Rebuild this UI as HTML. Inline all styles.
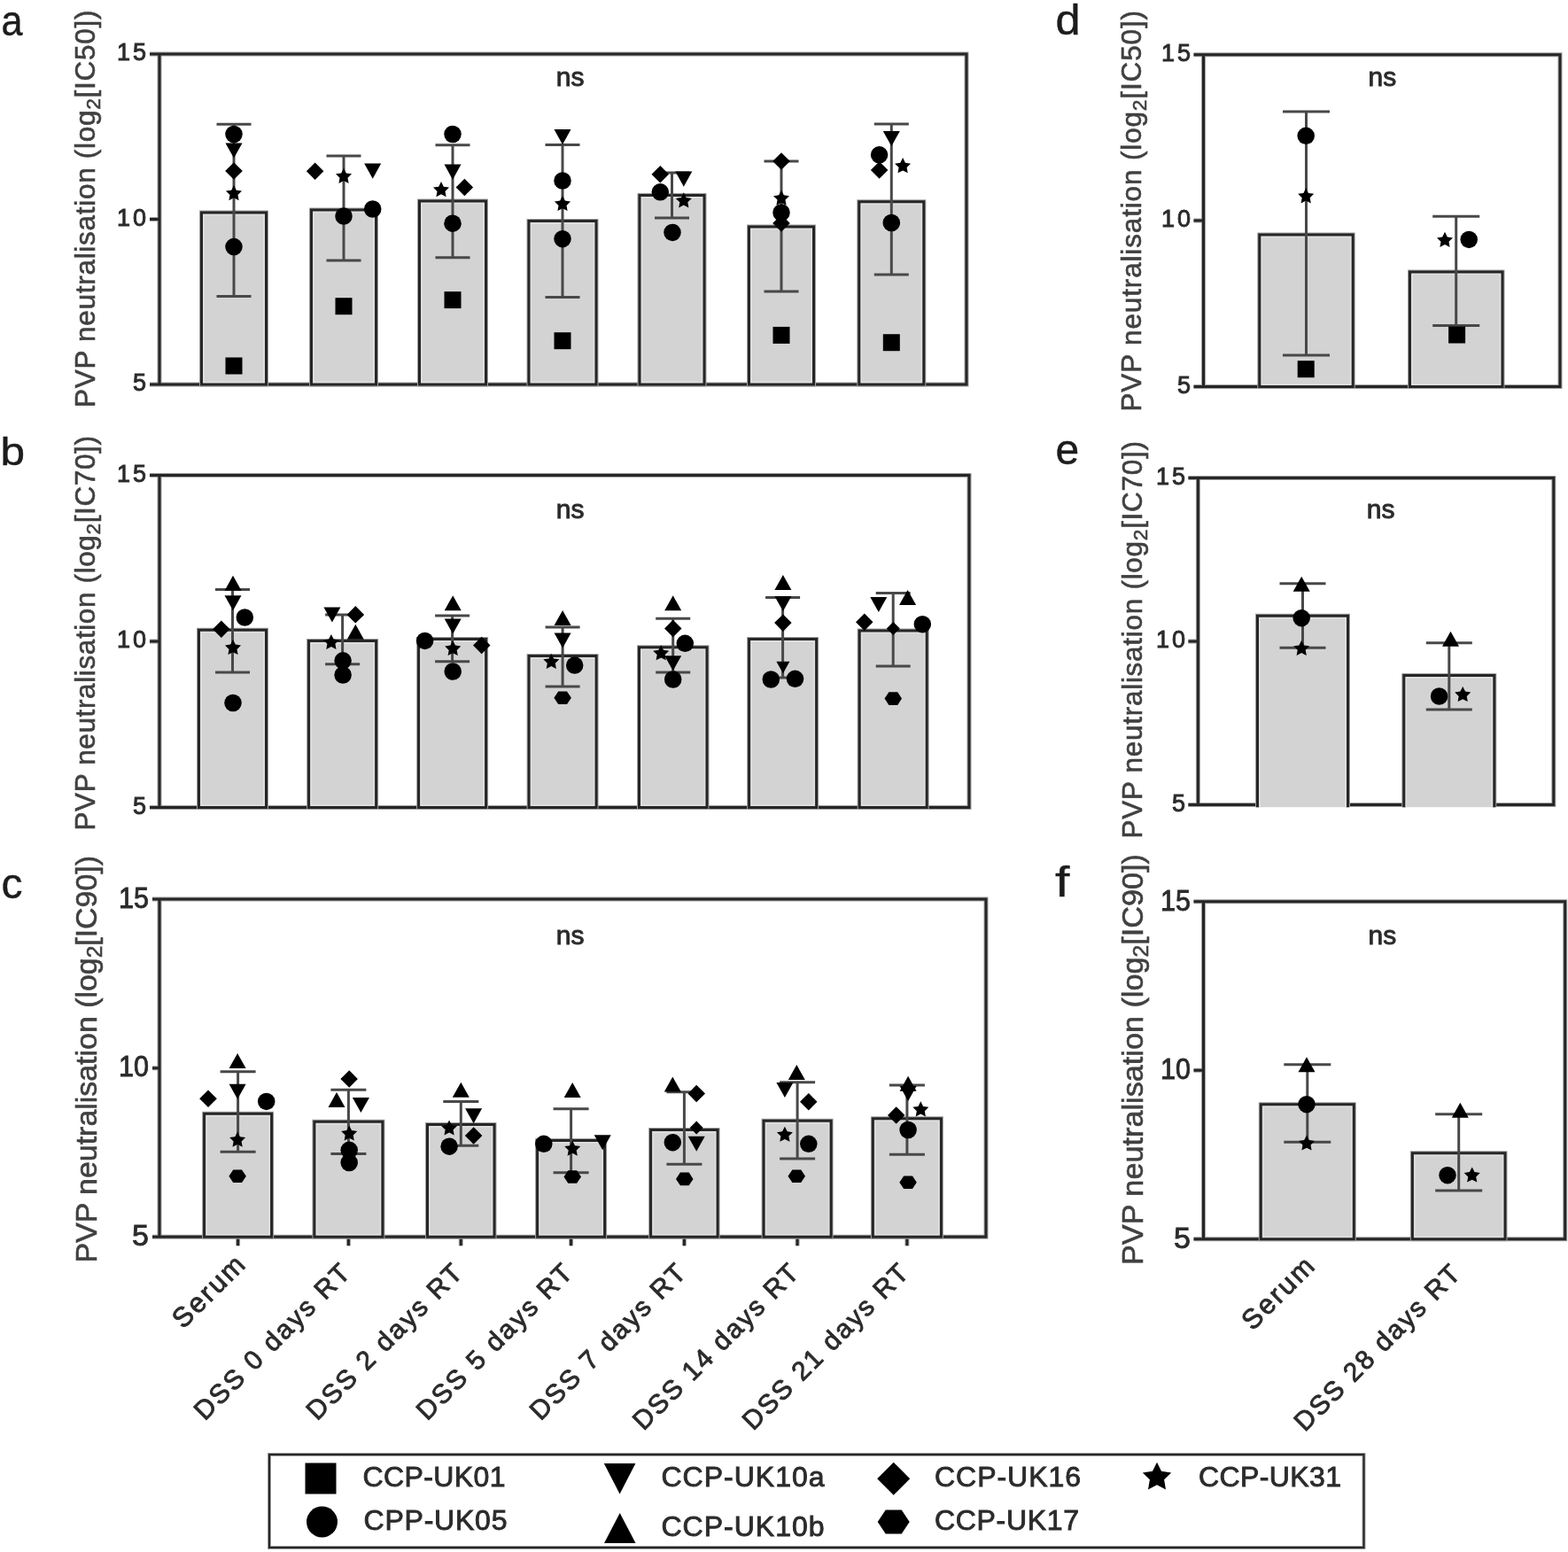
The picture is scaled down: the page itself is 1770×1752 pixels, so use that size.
<!DOCTYPE html>
<html><head><meta charset="utf-8"><title>PVP neutralisation figure</title>
<style>
html,body{margin:0;padding:0;background:#fff;}
body{width:1770px;height:1752px;overflow:hidden;}
svg{display:block;}
text{font-family:"Liberation Sans", Arial, sans-serif;stroke-width:0.9px;}
</style></head><body>
<svg width="1770" height="1752" viewBox="0 0 1770 1752">
<rect width="1770" height="1752" fill="#fff"/>
<path d="M180,434 L180,61 L1091,61 L1091,434 Z M169,61.0 L180,61.0 M169,247.5 L180,247.5 M169,434.0 L180,434.0" fill="none" stroke="#a0a0a0" stroke-width="5.0"/>
<path d="M180,434 L180,61 L1091,61 L1091,434 Z M169,61.0 L180,61.0 M169,247.5 L180,247.5 M169,434.0 L180,434.0" fill="none" stroke="#262626" stroke-width="3.0"/>
<path d="M227.5,434 L227.5,240.0 L300.5,240.0 L300.5,434 Z" fill="none" stroke="#a0a0a0" stroke-width="5.0"/>
<path d="M227.5,434 L227.5,240.0 L300.5,240.0 L300.5,434 Z" fill="#d3d3d3" stroke="none"/>
<rect x="230.0" y="242.5" width="68.0" height="189.0" fill="none" stroke="#e0e0e0" stroke-width="1.6"/>
<path d="M227.5,434 L227.5,240.0 L300.5,240.0 L300.5,434 Z" fill="none" stroke="#262626" stroke-width="3.0"/>
<path d="M351.5,434 L351.5,237.0 L424.5,237.0 L424.5,434 Z" fill="none" stroke="#a0a0a0" stroke-width="5.0"/>
<path d="M351.5,434 L351.5,237.0 L424.5,237.0 L424.5,434 Z" fill="#d3d3d3" stroke="none"/>
<rect x="354.0" y="239.5" width="68.0" height="192.0" fill="none" stroke="#e0e0e0" stroke-width="1.6"/>
<path d="M351.5,434 L351.5,237.0 L424.5,237.0 L424.5,434 Z" fill="none" stroke="#262626" stroke-width="3.0"/>
<path d="M473.5,434 L473.5,227.0 L548.5,227.0 L548.5,434 Z" fill="none" stroke="#a0a0a0" stroke-width="5.0"/>
<path d="M473.5,434 L473.5,227.0 L548.5,227.0 L548.5,434 Z" fill="#d3d3d3" stroke="none"/>
<rect x="476.0" y="229.5" width="70.0" height="202.0" fill="none" stroke="#e0e0e0" stroke-width="1.6"/>
<path d="M473.5,434 L473.5,227.0 L548.5,227.0 L548.5,434 Z" fill="none" stroke="#262626" stroke-width="3.0"/>
<path d="M597.0,434 L597.0,249.6 L673.0,249.6 L673.0,434 Z" fill="none" stroke="#a0a0a0" stroke-width="5.0"/>
<path d="M597.0,434 L597.0,249.6 L673.0,249.6 L673.0,434 Z" fill="#d3d3d3" stroke="none"/>
<rect x="599.5" y="252.1" width="71.0" height="179.4" fill="none" stroke="#e0e0e0" stroke-width="1.6"/>
<path d="M597.0,434 L597.0,249.6 L673.0,249.6 L673.0,434 Z" fill="none" stroke="#262626" stroke-width="3.0"/>
<path d="M722.0,434 L722.0,220.4 L795.0,220.4 L795.0,434 Z" fill="none" stroke="#a0a0a0" stroke-width="5.0"/>
<path d="M722.0,434 L722.0,220.4 L795.0,220.4 L795.0,434 Z" fill="#d3d3d3" stroke="none"/>
<rect x="724.5" y="222.9" width="68.0" height="208.6" fill="none" stroke="#e0e0e0" stroke-width="1.6"/>
<path d="M722.0,434 L722.0,220.4 L795.0,220.4 L795.0,434 Z" fill="none" stroke="#262626" stroke-width="3.0"/>
<path d="M845.5,434 L845.5,256.0 L918.5,256.0 L918.5,434 Z" fill="none" stroke="#a0a0a0" stroke-width="5.0"/>
<path d="M845.5,434 L845.5,256.0 L918.5,256.0 L918.5,434 Z" fill="#d3d3d3" stroke="none"/>
<rect x="848.0" y="258.5" width="68.0" height="173.0" fill="none" stroke="#e0e0e0" stroke-width="1.6"/>
<path d="M845.5,434 L845.5,256.0 L918.5,256.0 L918.5,434 Z" fill="none" stroke="#262626" stroke-width="3.0"/>
<path d="M969.8,434 L969.8,227.8 L1042.8,227.8 L1042.8,434 Z" fill="none" stroke="#a0a0a0" stroke-width="5.0"/>
<path d="M969.8,434 L969.8,227.8 L1042.8,227.8 L1042.8,434 Z" fill="#d3d3d3" stroke="none"/>
<rect x="972.3" y="230.3" width="68.0" height="201.2" fill="none" stroke="#e0e0e0" stroke-width="1.6"/>
<path d="M969.8,434 L969.8,227.8 L1042.8,227.8 L1042.8,434 Z" fill="none" stroke="#262626" stroke-width="3.0"/>
<g stroke="#484848" stroke-width="3.0"><line x1="264.0" y1="140.3" x2="264.0" y2="334.6"/><line x1="244.5" y1="140.3" x2="283.5" y2="140.3"/><line x1="244.5" y1="334.6" x2="283.5" y2="334.6"/></g>
<g stroke="#484848" stroke-width="3.0"><line x1="388.0" y1="175.9" x2="388.0" y2="293.9"/><line x1="368.5" y1="175.9" x2="407.5" y2="175.9"/><line x1="368.5" y1="293.9" x2="407.5" y2="293.9"/></g>
<g stroke="#484848" stroke-width="3.0"><line x1="511.0" y1="163.7" x2="511.0" y2="290.8"/><line x1="491.5" y1="163.7" x2="530.5" y2="163.7"/><line x1="491.5" y1="290.8" x2="530.5" y2="290.8"/></g>
<g stroke="#484848" stroke-width="3.0"><line x1="635.0" y1="163.5" x2="635.0" y2="335.4"/><line x1="615.5" y1="163.5" x2="654.5" y2="163.5"/><line x1="615.5" y1="335.4" x2="654.5" y2="335.4"/></g>
<g stroke="#484848" stroke-width="3.0"><line x1="758.5" y1="194.9" x2="758.5" y2="246.0"/><line x1="739.0" y1="194.9" x2="778.0" y2="194.9"/><line x1="739.0" y1="246.0" x2="778.0" y2="246.0"/></g>
<g stroke="#484848" stroke-width="3.0"><line x1="882.0" y1="182.1" x2="882.0" y2="329.1"/><line x1="862.5" y1="182.1" x2="901.5" y2="182.1"/><line x1="862.5" y1="329.1" x2="901.5" y2="329.1"/></g>
<g stroke="#484848" stroke-width="3.0"><line x1="1006.3" y1="140.1" x2="1006.3" y2="310.0"/><line x1="986.8" y1="140.1" x2="1025.8" y2="140.1"/><line x1="986.8" y1="310.0" x2="1025.8" y2="310.0"/></g>
<g fill="#000">
<circle cx="264.0" cy="151.5" r="9.75"/>
<polygon points="254.5,161.4 273.5,161.4 264.0,178.6"/>
<polygon points="264.0,183.2 273.8,193.0 264.0,202.8 254.2,193.0"/>
<polygon points="264.0,209.0 266.8,214.7 273.0,215.6 268.5,220.0 269.6,226.2 264.0,223.3 258.4,226.2 259.5,220.0 255.0,215.6 261.2,214.7"/>
<circle cx="264.0" cy="278.6" r="9.75"/>
<rect x="254.5" y="403.5" width="19" height="19"/>
<polygon points="355.6,183.4 365.4,193.2 355.6,202.9 345.9,193.2"/>
<polygon points="388.0,189.8 390.8,195.4 397.0,196.3 392.5,200.7 393.6,206.9 388.0,204.0 382.4,206.9 383.5,200.7 379.0,196.3 385.2,195.4"/>
<polygon points="411.2,184.6 430.2,184.6 420.7,201.8"/>
<circle cx="388.0" cy="244.0" r="9.75"/>
<circle cx="420.7" cy="236.0" r="9.75"/>
<rect x="378.5" y="336.2" width="19" height="19"/>
<circle cx="511.0" cy="151.5" r="9.75"/>
<polygon points="501.5,185.6 520.5,185.6 511.0,202.8"/>
<polygon points="498.0,205.0 500.8,210.7 507.0,211.6 502.5,216.0 503.6,222.2 498.0,219.3 492.4,222.2 493.5,216.0 489.0,211.6 495.2,210.7"/>
<polygon points="524.4,201.8 534.1,211.5 524.4,221.2 514.6,211.5"/>
<circle cx="511.0" cy="252.2" r="9.75"/>
<rect x="501.5" y="329.1" width="19" height="19"/>
<polygon points="625.5,146.1 644.5,146.1 635.0,163.2"/>
<circle cx="635.0" cy="204.0" r="9.75"/>
<polygon points="635.0,220.9 637.8,226.6 644.0,227.5 639.5,231.9 640.6,238.1 635.0,235.2 629.4,238.1 630.5,231.9 626.0,227.5 632.2,226.6"/>
<circle cx="635.0" cy="269.7" r="9.75"/>
<rect x="625.5" y="375.2" width="19" height="19"/>
<polygon points="745.3,186.9 755.0,196.7 745.3,206.4 735.5,196.7"/>
<polygon points="762.3,193.6 781.3,193.6 771.8,210.8"/>
<circle cx="745.3" cy="216.8" r="9.75"/>
<polygon points="771.8,217.3 774.6,223.0 780.8,223.9 776.3,228.3 777.4,234.5 771.8,231.6 766.2,234.5 767.3,228.3 762.8,223.9 769.0,223.0"/>
<circle cx="759.0" cy="262.4" r="9.75"/>
<polygon points="882.0,172.2 891.8,182.0 882.0,191.8 872.2,182.0"/>
<polygon points="882.0,214.6 884.8,220.3 891.0,221.2 886.5,225.6 887.6,231.8 882.0,228.9 876.4,231.8 877.5,225.6 873.0,221.2 879.2,220.3"/>
<circle cx="882.0" cy="240.0" r="9.75"/>
<polygon points="882.0,242.2 891.8,252.0 882.0,261.8 872.2,252.0"/>
<rect x="872.5" y="368.9" width="19" height="19"/>
<polygon points="996.8,147.9 1015.8,147.9 1006.3,165.1"/>
<circle cx="992.6" cy="174.8" r="9.75"/>
<polygon points="992.6,182.3 1002.4,192.1 992.6,201.8 982.9,192.1"/>
<polygon points="1019.1,178.1 1021.9,183.8 1028.1,184.7 1023.6,189.1 1024.7,195.3 1019.1,192.4 1013.5,195.3 1014.6,189.1 1010.1,184.7 1016.3,183.8"/>
<circle cx="1006.3" cy="251.5" r="9.75"/>
<rect x="996.8" y="377.2" width="19" height="19"/>
</g>
<text x="165" y="68.2" text-anchor="end" font-size="27" fill="#2b2b2b" stroke="#2b2b2b" textLength="33" lengthAdjust="spacing">15</text>
<text x="165" y="254.7" text-anchor="end" font-size="27" fill="#2b2b2b" stroke="#2b2b2b" textLength="33" lengthAdjust="spacing">10</text>
<text x="165" y="441.2" text-anchor="end" font-size="27" fill="#2b2b2b" stroke="#2b2b2b">5</text>
<text x="643.7" y="97" text-anchor="middle" font-size="30" fill="#2b2b2b" stroke="#2b2b2b">ns</text>
<text transform="translate(1.5,40) scale(0.9,1)" font-size="48" fill="#1c1c1c" stroke="#1c1c1c" style="stroke-width:0.4px">a</text>
<text transform="translate(107.2,460) rotate(-90)" x="0" y="0" font-size="31.5" fill="#404040" stroke="#404040" style="stroke-width:0.6px" textLength="448.4" lengthAdjust="spacing">PVP neutralisation (log<tspan font-size="22.7" dy="5.7">2</tspan><tspan dy="-5.7">[IC50])</tspan></text>
<path d="M180,911.5 L180,536.6 L1094,536.6 L1094,911.5 Z M169,536.6 L180,536.6 M169,724.0 L180,724.0 M169,911.5 L180,911.5" fill="none" stroke="#a0a0a0" stroke-width="5.0"/>
<path d="M180,911.5 L180,536.6 L1094,536.6 L1094,911.5 Z M169,536.6 L180,536.6 M169,724.0 L180,724.0 M169,911.5 L180,911.5" fill="none" stroke="#262626" stroke-width="3.0"/>
<path d="M224.5,911.5 L224.5,711.2 L300.5,711.2 L300.5,911.5 Z" fill="none" stroke="#a0a0a0" stroke-width="5.0"/>
<path d="M224.5,911.5 L224.5,711.2 L300.5,711.2 L300.5,911.5 Z" fill="#d3d3d3" stroke="none"/>
<rect x="227.0" y="713.7" width="71.0" height="195.3" fill="none" stroke="#e0e0e0" stroke-width="1.6"/>
<path d="M224.5,911.5 L224.5,711.2 L300.5,711.2 L300.5,911.5 Z" fill="none" stroke="#262626" stroke-width="3.0"/>
<path d="M348.6,911.5 L348.6,723.4 L424.6,723.4 L424.6,911.5 Z" fill="none" stroke="#a0a0a0" stroke-width="5.0"/>
<path d="M348.6,911.5 L348.6,723.4 L424.6,723.4 L424.6,911.5 Z" fill="#d3d3d3" stroke="none"/>
<rect x="351.1" y="725.9" width="71.0" height="183.1" fill="none" stroke="#e0e0e0" stroke-width="1.6"/>
<path d="M348.6,911.5 L348.6,723.4 L424.6,723.4 L424.6,911.5 Z" fill="none" stroke="#262626" stroke-width="3.0"/>
<path d="M472.6,911.5 L472.6,721.4 L548.6,721.4 L548.6,911.5 Z" fill="none" stroke="#a0a0a0" stroke-width="5.0"/>
<path d="M472.6,911.5 L472.6,721.4 L548.6,721.4 L548.6,911.5 Z" fill="#d3d3d3" stroke="none"/>
<rect x="475.1" y="723.9" width="71.0" height="185.1" fill="none" stroke="#e0e0e0" stroke-width="1.6"/>
<path d="M472.6,911.5 L472.6,721.4 L548.6,721.4 L548.6,911.5 Z" fill="none" stroke="#262626" stroke-width="3.0"/>
<path d="M597.1,911.5 L597.1,740.4 L673.1,740.4 L673.1,911.5 Z" fill="none" stroke="#a0a0a0" stroke-width="5.0"/>
<path d="M597.1,911.5 L597.1,740.4 L673.1,740.4 L673.1,911.5 Z" fill="#d3d3d3" stroke="none"/>
<rect x="599.6" y="742.9" width="71.0" height="166.1" fill="none" stroke="#e0e0e0" stroke-width="1.6"/>
<path d="M597.1,911.5 L597.1,740.4 L673.1,740.4 L673.1,911.5 Z" fill="none" stroke="#262626" stroke-width="3.0"/>
<path d="M721.5,911.5 L721.5,730.8 L798.0,730.8 L798.0,911.5 Z" fill="none" stroke="#a0a0a0" stroke-width="5.0"/>
<path d="M721.5,911.5 L721.5,730.8 L798.0,730.8 L798.0,911.5 Z" fill="#d3d3d3" stroke="none"/>
<rect x="724.0" y="733.3" width="71.5" height="175.7" fill="none" stroke="#e0e0e0" stroke-width="1.6"/>
<path d="M721.5,911.5 L721.5,730.8 L798.0,730.8 L798.0,911.5 Z" fill="none" stroke="#262626" stroke-width="3.0"/>
<path d="M845.6,911.5 L845.6,721.5 L921.6,721.5 L921.6,911.5 Z" fill="none" stroke="#a0a0a0" stroke-width="5.0"/>
<path d="M845.6,911.5 L845.6,721.5 L921.6,721.5 L921.6,911.5 Z" fill="#d3d3d3" stroke="none"/>
<rect x="848.1" y="724.0" width="71.0" height="185.0" fill="none" stroke="#e0e0e0" stroke-width="1.6"/>
<path d="M845.6,911.5 L845.6,721.5 L921.6,721.5 L921.6,911.5 Z" fill="none" stroke="#262626" stroke-width="3.0"/>
<path d="M970.2,911.5 L970.2,711.9 L1046.2,711.9 L1046.2,911.5 Z" fill="none" stroke="#a0a0a0" stroke-width="5.0"/>
<path d="M970.2,911.5 L970.2,711.9 L1046.2,711.9 L1046.2,911.5 Z" fill="#d3d3d3" stroke="none"/>
<rect x="972.7" y="714.4" width="71.0" height="194.6" fill="none" stroke="#e0e0e0" stroke-width="1.6"/>
<path d="M970.2,911.5 L970.2,711.9 L1046.2,711.9 L1046.2,911.5 Z" fill="none" stroke="#262626" stroke-width="3.0"/>
<g stroke="#484848" stroke-width="3.0"><line x1="262.5" y1="665.4" x2="262.5" y2="759.0"/><line x1="243.0" y1="665.4" x2="282.0" y2="665.4"/><line x1="243.0" y1="759.0" x2="282.0" y2="759.0"/></g>
<g stroke="#484848" stroke-width="3.0"><line x1="386.6" y1="693.9" x2="386.6" y2="749.8"/><line x1="367.1" y1="693.9" x2="406.1" y2="693.9"/><line x1="367.1" y1="749.8" x2="406.1" y2="749.8"/></g>
<g stroke="#484848" stroke-width="3.0"><line x1="510.6" y1="694.9" x2="510.6" y2="746.8"/><line x1="491.1" y1="694.9" x2="530.1" y2="694.9"/><line x1="491.1" y1="746.8" x2="530.1" y2="746.8"/></g>
<g stroke="#484848" stroke-width="3.0"><line x1="635.1" y1="707.9" x2="635.1" y2="775.0"/><line x1="615.6" y1="707.9" x2="654.6" y2="707.9"/><line x1="615.6" y1="775.0" x2="654.6" y2="775.0"/></g>
<g stroke="#484848" stroke-width="3.0"><line x1="759.7" y1="698.3" x2="759.7" y2="759.0"/><line x1="740.2" y1="698.3" x2="779.2" y2="698.3"/><line x1="740.2" y1="759.0" x2="779.2" y2="759.0"/></g>
<g stroke="#484848" stroke-width="3.0"><line x1="883.6" y1="674.4" x2="883.6" y2="765.0"/><line x1="864.1" y1="674.4" x2="903.1" y2="674.4"/><line x1="864.1" y1="765.0" x2="903.1" y2="765.0"/></g>
<g stroke="#484848" stroke-width="3.0"><line x1="1008.2" y1="669.6" x2="1008.2" y2="751.9"/><line x1="988.7" y1="669.6" x2="1027.7" y2="669.6"/><line x1="988.7" y1="751.9" x2="1027.7" y2="751.9"/></g>
<g fill="#000">
<polygon points="253.5,666.8 272.5,666.8 263.0,649.8"/>
<polygon points="253.5,672.2 272.5,672.2 263.0,689.2"/>
<circle cx="276.3" cy="697.0" r="9.75"/>
<polygon points="249.8,700.5 259.6,710.2 249.8,720.0 240.1,710.2"/>
<polygon points="263.0,722.0 265.8,727.6 272.0,728.5 267.5,732.9 268.6,739.1 263.0,736.2 257.4,739.1 258.5,732.9 254.0,728.5 260.2,727.6"/>
<circle cx="263.0" cy="793.5" r="9.75"/>
<polygon points="365.4,685.4 384.4,685.4 374.9,702.4"/>
<polygon points="401.3,684.1 411.1,693.9 401.3,703.6 391.6,693.9"/>
<polygon points="391.8,721.8 410.8,721.8 401.3,704.7"/>
<polygon points="373.9,715.9 376.7,721.5 382.9,722.4 378.4,726.8 379.5,733.0 373.9,730.1 368.3,733.0 369.4,726.8 364.9,722.4 371.1,721.5"/>
<circle cx="387.1" cy="745.8" r="9.75"/>
<circle cx="387.1" cy="762.0" r="9.75"/>
<polygon points="501.7,689.2 520.7,689.2 511.2,672.2"/>
<polygon points="501.7,698.6 520.7,698.6 511.2,715.6"/>
<circle cx="479.6" cy="723.4" r="9.75"/>
<polygon points="543.7,718.8 553.5,728.5 543.7,738.2 534.0,728.5"/>
<polygon points="511.2,723.0 514.0,728.6 520.2,729.5 515.7,733.9 516.8,740.1 511.2,737.2 505.6,740.1 506.7,733.9 502.2,729.5 508.4,728.6"/>
<circle cx="511.2" cy="758.0" r="9.75"/>
<polygon points="625.6,706.0 644.6,706.0 635.1,689.0"/>
<polygon points="625.6,714.6 644.6,714.6 635.1,731.6"/>
<polygon points="622.3,737.8 625.1,743.4 631.3,744.3 626.8,748.7 627.9,754.9 622.3,752.0 616.7,754.9 617.8,748.7 613.3,744.3 619.5,743.4"/>
<circle cx="648.7" cy="751.1" r="9.75"/>
<polygon points="644.9,787.8 640.0,795.1 630.2,795.1 625.4,787.8 630.2,780.5 640.0,780.5"/>
<polygon points="750.2,689.2 769.2,689.2 759.7,672.2"/>
<polygon points="759.7,699.8 769.5,709.5 759.7,719.2 750.0,709.5"/>
<circle cx="773.3" cy="726.3" r="9.75"/>
<polygon points="746.2,728.2 749.0,733.8 755.2,734.7 750.7,739.1 751.8,745.3 746.2,742.4 740.6,745.3 741.7,739.1 737.2,734.7 743.4,733.8"/>
<polygon points="750.2,740.2 769.2,740.2 759.7,757.2"/>
<circle cx="759.7" cy="767.0" r="9.75"/>
<polygon points="874.4,666.1 893.4,666.1 883.9,649.1"/>
<polygon points="874.4,673.1 893.4,673.1 883.9,690.1"/>
<polygon points="883.9,693.4 893.6,703.1 883.9,712.9 874.1,703.1"/>
<polygon points="876.4,746.8 891.4,746.8 883.9,760.2"/>
<circle cx="870.3" cy="767.0" r="9.75"/>
<circle cx="897.5" cy="766.3" r="9.75"/>
<polygon points="1015.1,682.9 1034.1,682.9 1024.6,665.9"/>
<polygon points="982.3,673.9 1001.3,673.9 991.8,690.9"/>
<polygon points="975.8,692.5 985.5,702.3 975.8,712.0 966.0,702.3"/>
<polygon points="1008.3,702.0 1015.8,709.5 1008.3,717.0 1000.8,709.5"/>
<circle cx="1041.3" cy="704.7" r="9.75"/>
<polygon points="1018.0,788.6 1013.2,795.9 1003.4,795.9 998.5,788.6 1003.4,781.3 1013.2,781.3"/>
</g>
<text x="165" y="543.8" text-anchor="end" font-size="27" fill="#2b2b2b" stroke="#2b2b2b" textLength="33" lengthAdjust="spacing">15</text>
<text x="165" y="731.3" text-anchor="end" font-size="27" fill="#2b2b2b" stroke="#2b2b2b" textLength="33" lengthAdjust="spacing">10</text>
<text x="165" y="918.7" text-anchor="end" font-size="27" fill="#2b2b2b" stroke="#2b2b2b">5</text>
<text x="643.7" y="584.5" text-anchor="middle" font-size="30" fill="#2b2b2b" stroke="#2b2b2b">ns</text>
<text transform="translate(0.5,524.5) scale(1.1,1)" font-size="45" fill="#1c1c1c" stroke="#1c1c1c" style="stroke-width:0.4px">b</text>
<text transform="translate(107,937.5) rotate(-90)" x="0" y="0" font-size="31.5" fill="#404040" stroke="#404040" style="stroke-width:0.6px" textLength="445.5" lengthAdjust="spacing">PVP neutralisation (log<tspan font-size="22.7" dy="5.7">2</tspan><tspan dy="-5.7">[IC70])</tspan></text>
<path d="M180,1396.3 L180,1015 L1113,1015 L1113,1396.3 Z M172,1015.0 L180,1015.0 M172,1205.7 L180,1205.7 M172,1396.3 L180,1396.3 M268.6,1396.3 L268.6,1406.3 M393.4,1396.3 L393.4,1406.3 M520.3,1396.3 L520.3,1406.3 M644.6,1396.3 L644.6,1406.3 M772.4,1396.3 L772.4,1406.3 M900.1,1396.3 L900.1,1406.3 M1023.9,1396.3 L1023.9,1406.3" fill="none" stroke="#a0a0a0" stroke-width="5.0"/>
<path d="M180,1396.3 L180,1015 L1113,1015 L1113,1396.3 Z M172,1015.0 L180,1015.0 M172,1205.7 L180,1205.7 M172,1396.3 L180,1396.3 M268.6,1396.3 L268.6,1406.3 M393.4,1396.3 L393.4,1406.3 M520.3,1396.3 L520.3,1406.3 M644.6,1396.3 L644.6,1406.3 M772.4,1396.3 L772.4,1406.3 M900.1,1396.3 L900.1,1406.3 M1023.9,1396.3 L1023.9,1406.3" fill="none" stroke="#262626" stroke-width="3.0"/>
<path d="M230.6,1396.3 L230.6,1257.2 L306.6,1257.2 L306.6,1396.3 Z" fill="none" stroke="#a0a0a0" stroke-width="5.0"/>
<path d="M230.6,1396.3 L230.6,1257.2 L306.6,1257.2 L306.6,1396.3 Z" fill="#d3d3d3" stroke="none"/>
<rect x="233.1" y="1259.7" width="71.0" height="134.1" fill="none" stroke="#e0e0e0" stroke-width="1.6"/>
<path d="M230.6,1396.3 L230.6,1257.2 L306.6,1257.2 L306.6,1396.3 Z" fill="none" stroke="#262626" stroke-width="3.0"/>
<path d="M354.9,1396.3 L354.9,1266.2 L431.9,1266.2 L431.9,1396.3 Z" fill="none" stroke="#a0a0a0" stroke-width="5.0"/>
<path d="M354.9,1396.3 L354.9,1266.2 L431.9,1266.2 L431.9,1396.3 Z" fill="#d3d3d3" stroke="none"/>
<rect x="357.4" y="1268.7" width="72.0" height="125.1" fill="none" stroke="#e0e0e0" stroke-width="1.6"/>
<path d="M354.9,1396.3 L354.9,1266.2 L431.9,1266.2 L431.9,1396.3 Z" fill="none" stroke="#262626" stroke-width="3.0"/>
<path d="M482.5,1396.3 L482.5,1269.4 L558.0,1269.4 L558.0,1396.3 Z" fill="none" stroke="#a0a0a0" stroke-width="5.0"/>
<path d="M482.5,1396.3 L482.5,1269.4 L558.0,1269.4 L558.0,1396.3 Z" fill="#d3d3d3" stroke="none"/>
<rect x="485.0" y="1271.9" width="70.5" height="121.9" fill="none" stroke="#e0e0e0" stroke-width="1.6"/>
<path d="M482.5,1396.3 L482.5,1269.4 L558.0,1269.4 L558.0,1396.3 Z" fill="none" stroke="#262626" stroke-width="3.0"/>
<path d="M606.6,1396.3 L606.6,1287.4 L682.6,1287.4 L682.6,1396.3 Z" fill="none" stroke="#a0a0a0" stroke-width="5.0"/>
<path d="M606.6,1396.3 L606.6,1287.4 L682.6,1287.4 L682.6,1396.3 Z" fill="#d3d3d3" stroke="none"/>
<rect x="609.1" y="1289.9" width="71.0" height="103.9" fill="none" stroke="#e0e0e0" stroke-width="1.6"/>
<path d="M606.6,1396.3 L606.6,1287.4 L682.6,1287.4 L682.6,1396.3 Z" fill="none" stroke="#262626" stroke-width="3.0"/>
<path d="M734.6,1396.3 L734.6,1275.5 L810.1,1275.5 L810.1,1396.3 Z" fill="none" stroke="#a0a0a0" stroke-width="5.0"/>
<path d="M734.6,1396.3 L734.6,1275.5 L810.1,1275.5 L810.1,1396.3 Z" fill="#d3d3d3" stroke="none"/>
<rect x="737.1" y="1278.0" width="70.5" height="115.8" fill="none" stroke="#e0e0e0" stroke-width="1.6"/>
<path d="M734.6,1396.3 L734.6,1275.5 L810.1,1275.5 L810.1,1396.3 Z" fill="none" stroke="#262626" stroke-width="3.0"/>
<path d="M862.1,1396.3 L862.1,1265.2 L938.1,1265.2 L938.1,1396.3 Z" fill="none" stroke="#a0a0a0" stroke-width="5.0"/>
<path d="M862.1,1396.3 L862.1,1265.2 L938.1,1265.2 L938.1,1396.3 Z" fill="#d3d3d3" stroke="none"/>
<rect x="864.6" y="1267.7" width="71.0" height="126.1" fill="none" stroke="#e0e0e0" stroke-width="1.6"/>
<path d="M862.1,1396.3 L862.1,1265.2 L938.1,1265.2 L938.1,1396.3 Z" fill="none" stroke="#262626" stroke-width="3.0"/>
<path d="M985.4,1396.3 L985.4,1262.8 L1062.4,1262.8 L1062.4,1396.3 Z" fill="none" stroke="#a0a0a0" stroke-width="5.0"/>
<path d="M985.4,1396.3 L985.4,1262.8 L1062.4,1262.8 L1062.4,1396.3 Z" fill="#d3d3d3" stroke="none"/>
<rect x="987.9" y="1265.3" width="72.0" height="128.5" fill="none" stroke="#e0e0e0" stroke-width="1.6"/>
<path d="M985.4,1396.3 L985.4,1262.8 L1062.4,1262.8 L1062.4,1396.3 Z" fill="none" stroke="#262626" stroke-width="3.0"/>
<g stroke="#484848" stroke-width="3.0"><line x1="268.6" y1="1209.8" x2="268.6" y2="1300.3"/><line x1="248.6" y1="1209.8" x2="288.6" y2="1209.8"/><line x1="248.6" y1="1300.3" x2="288.6" y2="1300.3"/></g>
<g stroke="#484848" stroke-width="3.0"><line x1="393.4" y1="1230.2" x2="393.4" y2="1302.4"/><line x1="373.4" y1="1230.2" x2="413.4" y2="1230.2"/><line x1="373.4" y1="1302.4" x2="413.4" y2="1302.4"/></g>
<g stroke="#484848" stroke-width="3.0"><line x1="520.3" y1="1243.4" x2="520.3" y2="1293.2"/><line x1="500.3" y1="1243.4" x2="540.3" y2="1243.4"/><line x1="500.3" y1="1293.2" x2="540.3" y2="1293.2"/></g>
<g stroke="#484848" stroke-width="3.0"><line x1="644.6" y1="1251.8" x2="644.6" y2="1323.7"/><line x1="624.6" y1="1251.8" x2="664.6" y2="1251.8"/><line x1="624.6" y1="1323.7" x2="664.6" y2="1323.7"/></g>
<g stroke="#484848" stroke-width="3.0"><line x1="772.4" y1="1232.8" x2="772.4" y2="1314.2"/><line x1="752.4" y1="1232.8" x2="792.4" y2="1232.8"/><line x1="752.4" y1="1314.2" x2="792.4" y2="1314.2"/></g>
<g stroke="#484848" stroke-width="3.0"><line x1="900.1" y1="1221.7" x2="900.1" y2="1307.9"/><line x1="880.1" y1="1221.7" x2="920.1" y2="1221.7"/><line x1="880.1" y1="1307.9" x2="920.1" y2="1307.9"/></g>
<g stroke="#484848" stroke-width="3.0"><line x1="1023.9" y1="1224.9" x2="1023.9" y2="1303.2"/><line x1="1003.9" y1="1224.9" x2="1043.9" y2="1224.9"/><line x1="1003.9" y1="1303.2" x2="1043.9" y2="1303.2"/></g>
<g fill="#000">
<polygon points="258.6,1206.1 277.6,1206.1 268.1,1189.0"/>
<polygon points="235.0,1230.5 244.8,1240.3 235.0,1250.0 225.2,1240.3"/>
<polygon points="258.6,1223.7 277.6,1223.7 268.1,1240.8"/>
<circle cx="300.7" cy="1243.4" r="9.75"/>
<polygon points="268.1,1277.5 270.9,1283.2 277.1,1284.1 272.6,1288.5 273.7,1294.7 268.1,1291.8 262.5,1294.7 263.6,1288.5 259.1,1284.1 265.3,1283.2"/>
<polygon points="277.9,1327.8 273.0,1335.1 263.2,1335.1 258.4,1327.8 263.2,1320.5 273.0,1320.5"/>
<polygon points="394.2,1208.2 403.9,1218.0 394.2,1227.8 384.4,1218.0"/>
<polygon points="370.5,1250.0 389.5,1250.0 380.0,1232.9"/>
<polygon points="397.9,1239.0 416.9,1239.0 407.4,1256.0"/>
<polygon points="394.2,1270.5 397.0,1276.1 403.2,1277.0 398.7,1281.4 399.8,1287.6 394.2,1284.7 388.6,1287.6 389.7,1281.4 385.2,1277.0 391.4,1276.1"/>
<circle cx="394.2" cy="1298.3" r="9.75"/>
<circle cx="394.2" cy="1312.5" r="9.75"/>
<polygon points="510.8,1238.8 529.8,1238.8 520.3,1221.7"/>
<polygon points="525.1,1251.2 544.1,1251.2 534.6,1268.2"/>
<polygon points="507.1,1264.4 509.9,1270.0 516.1,1270.9 511.6,1275.3 512.7,1281.5 507.1,1278.6 501.5,1281.5 502.6,1275.3 498.1,1270.9 504.3,1270.0"/>
<polygon points="534.6,1272.2 544.4,1282.0 534.6,1291.8 524.9,1282.0"/>
<circle cx="507.1" cy="1294.2" r="9.75"/>
<polygon points="636.7,1239.0 655.7,1239.0 646.2,1221.9"/>
<circle cx="613.8" cy="1291.3" r="9.75"/>
<polygon points="670.7,1281.2 689.7,1281.2 680.2,1298.2"/>
<polygon points="646.2,1287.5 649.0,1293.2 655.2,1294.1 650.7,1298.5 651.8,1304.7 646.2,1301.8 640.6,1304.7 641.7,1298.5 637.2,1294.1 643.4,1293.2"/>
<polygon points="656.0,1328.5 651.1,1335.8 641.3,1335.8 636.5,1328.5 641.3,1321.2 651.1,1321.2"/>
<polygon points="749.8,1232.6 768.8,1232.6 759.3,1215.5"/>
<polygon points="786.2,1224.7 796.0,1234.4 786.2,1244.2 776.5,1234.4"/>
<polygon points="786.2,1265.6 793.7,1273.1 786.2,1280.6 778.7,1273.1"/>
<circle cx="759.3" cy="1289.7" r="9.75"/>
<polygon points="776.7,1282.8 795.7,1282.8 786.2,1299.8"/>
<polygon points="782.5,1330.9 777.7,1338.2 767.9,1338.2 763.0,1330.9 767.9,1323.6 777.7,1323.6"/>
<polygon points="889.8,1219.1 908.8,1219.1 899.3,1202.0"/>
<polygon points="876.4,1221.9 895.4,1221.9 885.9,1239.0"/>
<polygon points="912.8,1234.0 922.5,1243.8 912.8,1253.5 903.0,1243.8"/>
<polygon points="885.9,1271.7 888.7,1277.3 894.9,1278.2 890.4,1282.6 891.5,1288.8 885.9,1285.9 880.3,1288.8 881.4,1282.6 876.9,1278.2 883.1,1277.3"/>
<circle cx="912.8" cy="1291.3" r="9.75"/>
<polygon points="909.0,1327.7 904.2,1335.0 894.4,1335.0 889.5,1327.7 894.4,1320.4 904.2,1320.4"/>
<polygon points="1015.6,1231.8 1034.6,1231.8 1025.1,1214.8"/>
<polygon points="1015.6,1225.9 1034.6,1225.9 1025.1,1243.0"/>
<polygon points="1011.7,1249.2 1021.5,1258.9 1011.7,1268.7 1002.0,1258.9"/>
<polygon points="1039.3,1243.2 1042.1,1248.9 1048.3,1249.8 1043.8,1254.2 1044.9,1260.4 1039.3,1257.5 1033.7,1260.4 1034.8,1254.2 1030.3,1249.8 1036.5,1248.9"/>
<circle cx="1025.1" cy="1275.5" r="9.75"/>
<polygon points="1034.8,1334.8 1030.0,1342.1 1020.2,1342.1 1015.3,1334.8 1020.2,1327.5 1030.0,1327.5"/>
</g>
<text x="168" y="1024.7" text-anchor="end" font-size="34" fill="#2b2b2b" stroke="#2b2b2b" textLength="34" lengthAdjust="spacingAndGlyphs">15</text>
<text x="168" y="1215.4" text-anchor="end" font-size="34" fill="#2b2b2b" stroke="#2b2b2b" textLength="34" lengthAdjust="spacingAndGlyphs">10</text>
<text x="168" y="1406.0" text-anchor="end" font-size="34" fill="#2b2b2b" stroke="#2b2b2b">5</text>
<text x="643.7" y="1065.5" text-anchor="middle" font-size="30" fill="#2b2b2b" stroke="#2b2b2b">ns</text>
<text transform="translate(1.5,1013.5) scale(1.0,1)" font-size="48" fill="#1c1c1c" stroke="#1c1c1c" style="stroke-width:0.4px">c</text>
<text transform="translate(109,1425.5) rotate(-90)" x="0" y="0" font-size="33" fill="#404040" stroke="#404040" style="stroke-width:0.6px" textLength="459.5" lengthAdjust="spacingAndGlyphs">PVP neutralisation (log<tspan font-size="23.8" dy="5.9">2</tspan><tspan dy="-5.9">[IC90])</tspan></text>
<text transform="translate(278.2,1429.7) rotate(-45)" text-anchor="end" font-size="31" fill="#2b2b2b" stroke="#2b2b2b" textLength="101" lengthAdjust="spacing">Serum</text>
<text transform="translate(396.6,1439.0) rotate(-45)" text-anchor="end" font-size="30" fill="#2b2b2b" stroke="#2b2b2b" textLength="234" lengthAdjust="spacing">DSS 0 days RT</text>
<text transform="translate(523.5,1439.0) rotate(-45)" text-anchor="end" font-size="30" fill="#2b2b2b" stroke="#2b2b2b" textLength="234" lengthAdjust="spacing">DSS 2 days RT</text>
<text transform="translate(647.8,1439.0) rotate(-45)" text-anchor="end" font-size="30" fill="#2b2b2b" stroke="#2b2b2b" textLength="234" lengthAdjust="spacing">DSS 5 days RT</text>
<text transform="translate(775.6,1439.0) rotate(-45)" text-anchor="end" font-size="30" fill="#2b2b2b" stroke="#2b2b2b" textLength="234" lengthAdjust="spacing">DSS 7 days RT</text>
<text transform="translate(903.3,1439.0) rotate(-45)" text-anchor="end" font-size="30" fill="#2b2b2b" stroke="#2b2b2b" textLength="250" lengthAdjust="spacing">DSS 14 days RT</text>
<text transform="translate(1027.1,1439.0) rotate(-45)" text-anchor="end" font-size="30" fill="#2b2b2b" stroke="#2b2b2b" textLength="250" lengthAdjust="spacing">DSS 21 days RT</text>
<path d="M1358.5,436.5 L1358.5,61.7 L1761,61.7 L1761,436.5 Z M1347.5,61.7 L1358.5,61.7 M1347.5,249.1 L1358.5,249.1 M1347.5,436.5 L1358.5,436.5" fill="none" stroke="#a0a0a0" stroke-width="5.0"/>
<path d="M1358.5,436.5 L1358.5,61.7 L1761,61.7 L1761,436.5 Z M1347.5,61.7 L1358.5,61.7 M1347.5,249.1 L1358.5,249.1 M1347.5,436.5 L1358.5,436.5" fill="none" stroke="#262626" stroke-width="3.0"/>
<path d="M1421.8,436.5 L1421.8,265.1 L1527.2,265.1 L1527.2,436.5 Z" fill="none" stroke="#a0a0a0" stroke-width="5.0"/>
<path d="M1421.8,436.5 L1421.8,265.1 L1527.2,265.1 L1527.2,436.5 Z" fill="#d3d3d3" stroke="none"/>
<rect x="1424.2" y="267.6" width="100.5" height="166.4" fill="none" stroke="#e0e0e0" stroke-width="1.6"/>
<path d="M1421.8,436.5 L1421.8,265.1 L1527.2,265.1 L1527.2,436.5 Z" fill="none" stroke="#262626" stroke-width="3.0"/>
<path d="M1591.5,436.5 L1591.5,306.9 L1696.0,306.9 L1696.0,436.5 Z" fill="none" stroke="#a0a0a0" stroke-width="5.0"/>
<path d="M1591.5,436.5 L1591.5,306.9 L1696.0,306.9 L1696.0,436.5 Z" fill="#d3d3d3" stroke="none"/>
<rect x="1594.0" y="309.4" width="99.5" height="124.6" fill="none" stroke="#e0e0e0" stroke-width="1.6"/>
<path d="M1591.5,436.5 L1591.5,306.9 L1696.0,306.9 L1696.0,436.5 Z" fill="none" stroke="#262626" stroke-width="3.0"/>
<g stroke="#484848" stroke-width="3.0"><line x1="1474.5" y1="126.1" x2="1474.5" y2="401.0"/><line x1="1448.0" y1="126.1" x2="1501.0" y2="126.1"/><line x1="1448.0" y1="401.0" x2="1501.0" y2="401.0"/></g>
<g stroke="#484848" stroke-width="3.0"><line x1="1643.7" y1="244.2" x2="1643.7" y2="367.6"/><line x1="1617.2" y1="244.2" x2="1670.2" y2="244.2"/><line x1="1617.2" y1="367.6" x2="1670.2" y2="367.6"/></g>
<g fill="#000">
<circle cx="1474.2" cy="153.3" r="9.75"/>
<polygon points="1474.2,212.2 1477.0,217.9 1483.2,218.8 1478.7,223.2 1479.8,229.4 1474.2,226.5 1468.6,229.4 1469.7,223.2 1465.2,218.8 1471.4,217.9"/>
<rect x="1464.7" y="407.2" width="19" height="19"/>
<polygon points="1631.0,261.8 1633.8,267.5 1640.0,268.4 1635.5,272.8 1636.6,279.0 1631.0,276.1 1625.4,279.0 1626.5,272.8 1622.0,268.4 1628.2,267.5"/>
<circle cx="1658.2" cy="270.4" r="9.75"/>
<rect x="1635.1" y="368.5" width="19" height="19"/>
</g>
<text x="1344" y="68.9" text-anchor="end" font-size="27" fill="#2b2b2b" stroke="#2b2b2b" textLength="33" lengthAdjust="spacing">15</text>
<text x="1344" y="256.3" text-anchor="end" font-size="27" fill="#2b2b2b" stroke="#2b2b2b" textLength="33" lengthAdjust="spacing">10</text>
<text x="1344" y="443.7" text-anchor="end" font-size="27" fill="#2b2b2b" stroke="#2b2b2b">5</text>
<text x="1560.4" y="97" text-anchor="middle" font-size="30" fill="#2b2b2b" stroke="#2b2b2b">ns</text>
<text transform="translate(1191.5,39) scale(1.05,1)" font-size="48" fill="#1c1c1c" stroke="#1c1c1c" style="stroke-width:0.4px">d</text>
<text transform="translate(1288,464.5) rotate(-90)" x="0" y="0" font-size="31.5" fill="#404040" stroke="#404040" style="stroke-width:0.6px" textLength="452.5" lengthAdjust="spacing">PVP neutralisation (log<tspan font-size="22.7" dy="5.7">2</tspan><tspan dy="-5.7">[IC50])</tspan></text>
<path d="M1352.4,908.5 L1352.4,539.4 L1753.8,539.4 L1753.8,908.5 Z M1341.4,539.4 L1352.4,539.4 M1341.4,724.0 L1352.4,724.0 M1341.4,908.5 L1352.4,908.5" fill="none" stroke="#a0a0a0" stroke-width="5.0"/>
<path d="M1352.4,908.5 L1352.4,539.4 L1753.8,539.4 L1753.8,908.5 Z M1341.4,539.4 L1352.4,539.4 M1341.4,724.0 L1352.4,724.0 M1341.4,908.5 L1352.4,908.5" fill="none" stroke="#262626" stroke-width="3.0"/>
<path d="M1419.5,911.2 L1419.5,695.2 L1521.5,695.2 L1521.5,911.2" fill="none" stroke="#a0a0a0" stroke-width="5.0"/>
<rect x="1419.5" y="695.2" width="102.0" height="216.0" fill="#d3d3d3" stroke="none"/>
<polyline points="1422.0,911.2 1422.0,697.7 1519.0,697.7 1519.0,911.2" fill="none" stroke="#e0e0e0" stroke-width="1.6"/>
<path d="M1419.5,911.2 L1419.5,695.2 L1521.5,695.2 L1521.5,911.2" fill="none" stroke="#262626" stroke-width="3.0"/>
<path d="M1584.8,911.2 L1584.8,762.4 L1686.8,762.4 L1686.8,911.2" fill="none" stroke="#a0a0a0" stroke-width="5.0"/>
<rect x="1584.8" y="762.4" width="102.0" height="148.8" fill="#d3d3d3" stroke="none"/>
<polyline points="1587.3,911.2 1587.3,764.9 1684.3,764.9 1684.3,911.2" fill="none" stroke="#e0e0e0" stroke-width="1.6"/>
<path d="M1584.8,911.2 L1584.8,762.4 L1686.8,762.4 L1686.8,911.2" fill="none" stroke="#262626" stroke-width="3.0"/>
<g stroke="#484848" stroke-width="3.0"><line x1="1470.5" y1="658.7" x2="1470.5" y2="731.3"/><line x1="1444.5" y1="658.7" x2="1496.5" y2="658.7"/><line x1="1444.5" y1="731.3" x2="1496.5" y2="731.3"/></g>
<g stroke="#484848" stroke-width="3.0"><line x1="1635.8" y1="725.8" x2="1635.8" y2="800.9"/><line x1="1609.8" y1="725.8" x2="1661.8" y2="725.8"/><line x1="1609.8" y1="800.9" x2="1661.8" y2="800.9"/></g>
<g fill="#000">
<polygon points="1459.7,667.8 1478.7,667.8 1469.2,650.7"/>
<circle cx="1469.2" cy="697.7" r="9.75"/>
<polygon points="1469.2,722.8 1472.0,728.4 1478.2,729.3 1473.7,733.7 1474.8,739.9 1469.2,737.0 1463.6,739.9 1464.7,733.7 1460.2,729.3 1466.4,728.4"/>
<polygon points="1628.0,729.8 1647.0,729.8 1637.5,712.8"/>
<circle cx="1624.6" cy="786.0" r="9.75"/>
<polygon points="1651.2,775.0 1654.0,780.6 1660.2,781.5 1655.7,785.9 1656.8,792.1 1651.2,789.2 1645.6,792.1 1646.7,785.9 1642.2,781.5 1648.4,780.6"/>
</g>
<text x="1338" y="546.6" text-anchor="end" font-size="27" fill="#2b2b2b" stroke="#2b2b2b" textLength="33" lengthAdjust="spacing">15</text>
<text x="1338" y="731.2" text-anchor="end" font-size="27" fill="#2b2b2b" stroke="#2b2b2b" textLength="33" lengthAdjust="spacing">10</text>
<text x="1338" y="915.7" text-anchor="end" font-size="27" fill="#2b2b2b" stroke="#2b2b2b">5</text>
<text x="1558.6" y="584.5" text-anchor="middle" font-size="30" fill="#2b2b2b" stroke="#2b2b2b">ns</text>
<text transform="translate(1191.5,523.5) scale(1.0,1)" font-size="48" fill="#1c1c1c" stroke="#1c1c1c" style="stroke-width:0.4px">e</text>
<text transform="translate(1289,946.5) rotate(-90)" x="0" y="0" font-size="31.5" fill="#404040" stroke="#404040" style="stroke-width:0.6px" textLength="448.5" lengthAdjust="spacing">PVP neutralisation (log<tspan font-size="22.7" dy="5.7">2</tspan><tspan dy="-5.7">[IC70])</tspan></text>
<path d="M1358.5,1398.8 L1358.5,1017.8 L1766.7,1017.8 L1766.7,1398.8 Z M1347.5,1017.8 L1358.5,1017.8 M1347.5,1208.3 L1358.5,1208.3 M1347.5,1398.8 L1358.5,1398.8" fill="none" stroke="#a0a0a0" stroke-width="5.0"/>
<path d="M1358.5,1398.8 L1358.5,1017.8 L1766.7,1017.8 L1766.7,1398.8 Z M1347.5,1017.8 L1358.5,1017.8 M1347.5,1208.3 L1358.5,1208.3 M1347.5,1398.8 L1358.5,1398.8" fill="none" stroke="#262626" stroke-width="3.0"/>
<path d="M1423.3,1398.8 L1423.3,1246.7 L1528.3,1246.7 L1528.3,1398.8 Z" fill="none" stroke="#a0a0a0" stroke-width="5.0"/>
<path d="M1423.3,1398.8 L1423.3,1246.7 L1528.3,1246.7 L1528.3,1398.8 Z" fill="#d3d3d3" stroke="none"/>
<rect x="1425.8" y="1249.2" width="100.0" height="147.1" fill="none" stroke="#e0e0e0" stroke-width="1.6"/>
<path d="M1423.3,1398.8 L1423.3,1246.7 L1528.3,1246.7 L1528.3,1398.8 Z" fill="none" stroke="#262626" stroke-width="3.0"/>
<path d="M1594.4,1398.8 L1594.4,1301.7 L1699.0,1301.7 L1699.0,1398.8 Z" fill="none" stroke="#a0a0a0" stroke-width="5.0"/>
<path d="M1594.4,1398.8 L1594.4,1301.7 L1699.0,1301.7 L1699.0,1398.8 Z" fill="#d3d3d3" stroke="none"/>
<rect x="1596.9" y="1304.2" width="99.7" height="92.1" fill="none" stroke="#e0e0e0" stroke-width="1.6"/>
<path d="M1594.4,1398.8 L1594.4,1301.7 L1699.0,1301.7 L1699.0,1398.8 Z" fill="none" stroke="#262626" stroke-width="3.0"/>
<g stroke="#484848" stroke-width="3.0"><line x1="1475.8" y1="1201.7" x2="1475.8" y2="1289.3"/><line x1="1449.3" y1="1201.7" x2="1502.3" y2="1201.7"/><line x1="1449.3" y1="1289.3" x2="1502.3" y2="1289.3"/></g>
<g stroke="#484848" stroke-width="3.0"><line x1="1646.7" y1="1257.7" x2="1646.7" y2="1344.0"/><line x1="1620.2" y1="1257.7" x2="1673.2" y2="1257.7"/><line x1="1620.2" y1="1344.0" x2="1673.2" y2="1344.0"/></g>
<g fill="#000">
<polygon points="1465.5,1210.2 1484.5,1210.2 1475.0,1193.2"/>
<circle cx="1475.0" cy="1246.7" r="9.75"/>
<polygon points="1475.0,1281.5 1477.8,1287.1 1484.0,1288.0 1479.5,1292.4 1480.6,1298.6 1475.0,1295.7 1469.4,1298.6 1470.5,1292.4 1466.0,1288.0 1472.2,1287.1"/>
<polygon points="1638.8,1261.8 1657.8,1261.8 1648.3,1244.8"/>
<circle cx="1634.0" cy="1326.7" r="9.75"/>
<polygon points="1661.7,1317.5 1664.5,1323.1 1670.7,1324.0 1666.2,1328.4 1667.3,1334.6 1661.7,1331.7 1656.1,1334.6 1657.2,1328.4 1652.7,1324.0 1658.9,1323.1"/>
</g>
<text x="1344" y="1027.5" text-anchor="end" font-size="34" fill="#2b2b2b" stroke="#2b2b2b" textLength="34" lengthAdjust="spacingAndGlyphs">15</text>
<text x="1344" y="1218.0" text-anchor="end" font-size="34" fill="#2b2b2b" stroke="#2b2b2b" textLength="34" lengthAdjust="spacingAndGlyphs">10</text>
<text x="1344" y="1408.5" text-anchor="end" font-size="34" fill="#2b2b2b" stroke="#2b2b2b">5</text>
<text x="1560.4" y="1065.5" text-anchor="middle" font-size="30" fill="#2b2b2b" stroke="#2b2b2b">ns</text>
<text transform="translate(1191,1011.5) scale(1.2,1)" font-size="49" fill="#1c1c1c" stroke="#1c1c1c" style="stroke-width:0.4px">f</text>
<text transform="translate(1290,1428) rotate(-90)" x="0" y="0" font-size="33" fill="#404040" stroke="#404040" style="stroke-width:0.6px" textLength="464.0" lengthAdjust="spacingAndGlyphs">PVP neutralisation (log<tspan font-size="23.8" dy="5.9">2</tspan><tspan dy="-5.9">[IC90])</tspan></text>
<text transform="translate(1485.4,1431.5) rotate(-45)" text-anchor="end" font-size="31" fill="#2b2b2b" stroke="#2b2b2b" textLength="101" lengthAdjust="spacing">Serum</text>
<text transform="translate(1649.9,1440.1) rotate(-45)" text-anchor="end" font-size="30" fill="#2b2b2b" stroke="#2b2b2b" textLength="250" lengthAdjust="spacing">DSS 28 days RT</text>
<rect x="304" y="1642" width="1235.5" height="105" fill="none" stroke="#a8a8a8" stroke-width="4"/>
<rect x="304" y="1642" width="1235.5" height="105" fill="none" stroke="#262626" stroke-width="2.2"/>
<g fill="#000">
<rect x="344.5" y="1651.5" width="35" height="35"/>
<circle cx="363.5" cy="1718.0" r="17.50"/>
<polygon points="681.8,1652 717.4,1652 699.6,1686.5"/>
<polygon points="682,1742 717.5,1742 699.7,1708"/>
<polygon points="1008.7,1650.8 1027.2,1669.3 1008.7,1687.8 990.2,1669.3"/>
<polygon points="1026.7,1718.0 1017.7,1731.6 999.7,1731.6 990.7,1718.0 999.7,1704.4 1017.7,1704.4"/>
<polygon points="1306.0,1650.7 1311.0,1660.8 1322.2,1662.4 1314.1,1670.3 1316.0,1681.5 1306.0,1676.2 1296.0,1681.5 1297.9,1670.3 1289.8,1662.4 1301.0,1660.8"/>
</g>
<text x="409.5" y="1678" font-size="32" fill="#2b2b2b" stroke="#2b2b2b" textLength="161" lengthAdjust="spacing">CCP-UK01</text>
<text x="410.5" y="1726.5" font-size="32" fill="#2b2b2b" stroke="#2b2b2b" textLength="162" lengthAdjust="spacing">CPP-UK05</text>
<text x="746.5" y="1678" font-size="32" fill="#2b2b2b" stroke="#2b2b2b" textLength="184" lengthAdjust="spacing">CCP-UK10a</text>
<text x="746.5" y="1733.5" font-size="32" fill="#2b2b2b" stroke="#2b2b2b" textLength="184" lengthAdjust="spacing">CCP-UK10b</text>
<text x="1055" y="1678" font-size="32" fill="#2b2b2b" stroke="#2b2b2b" textLength="165" lengthAdjust="spacing">CCP-UK16</text>
<text x="1055" y="1726.5" font-size="32" fill="#2b2b2b" stroke="#2b2b2b" textLength="163" lengthAdjust="spacing">CCP-UK17</text>
<text x="1353" y="1678" font-size="32" fill="#2b2b2b" stroke="#2b2b2b" textLength="161" lengthAdjust="spacing">CCP-UK31</text>
</svg>
</body></html>
